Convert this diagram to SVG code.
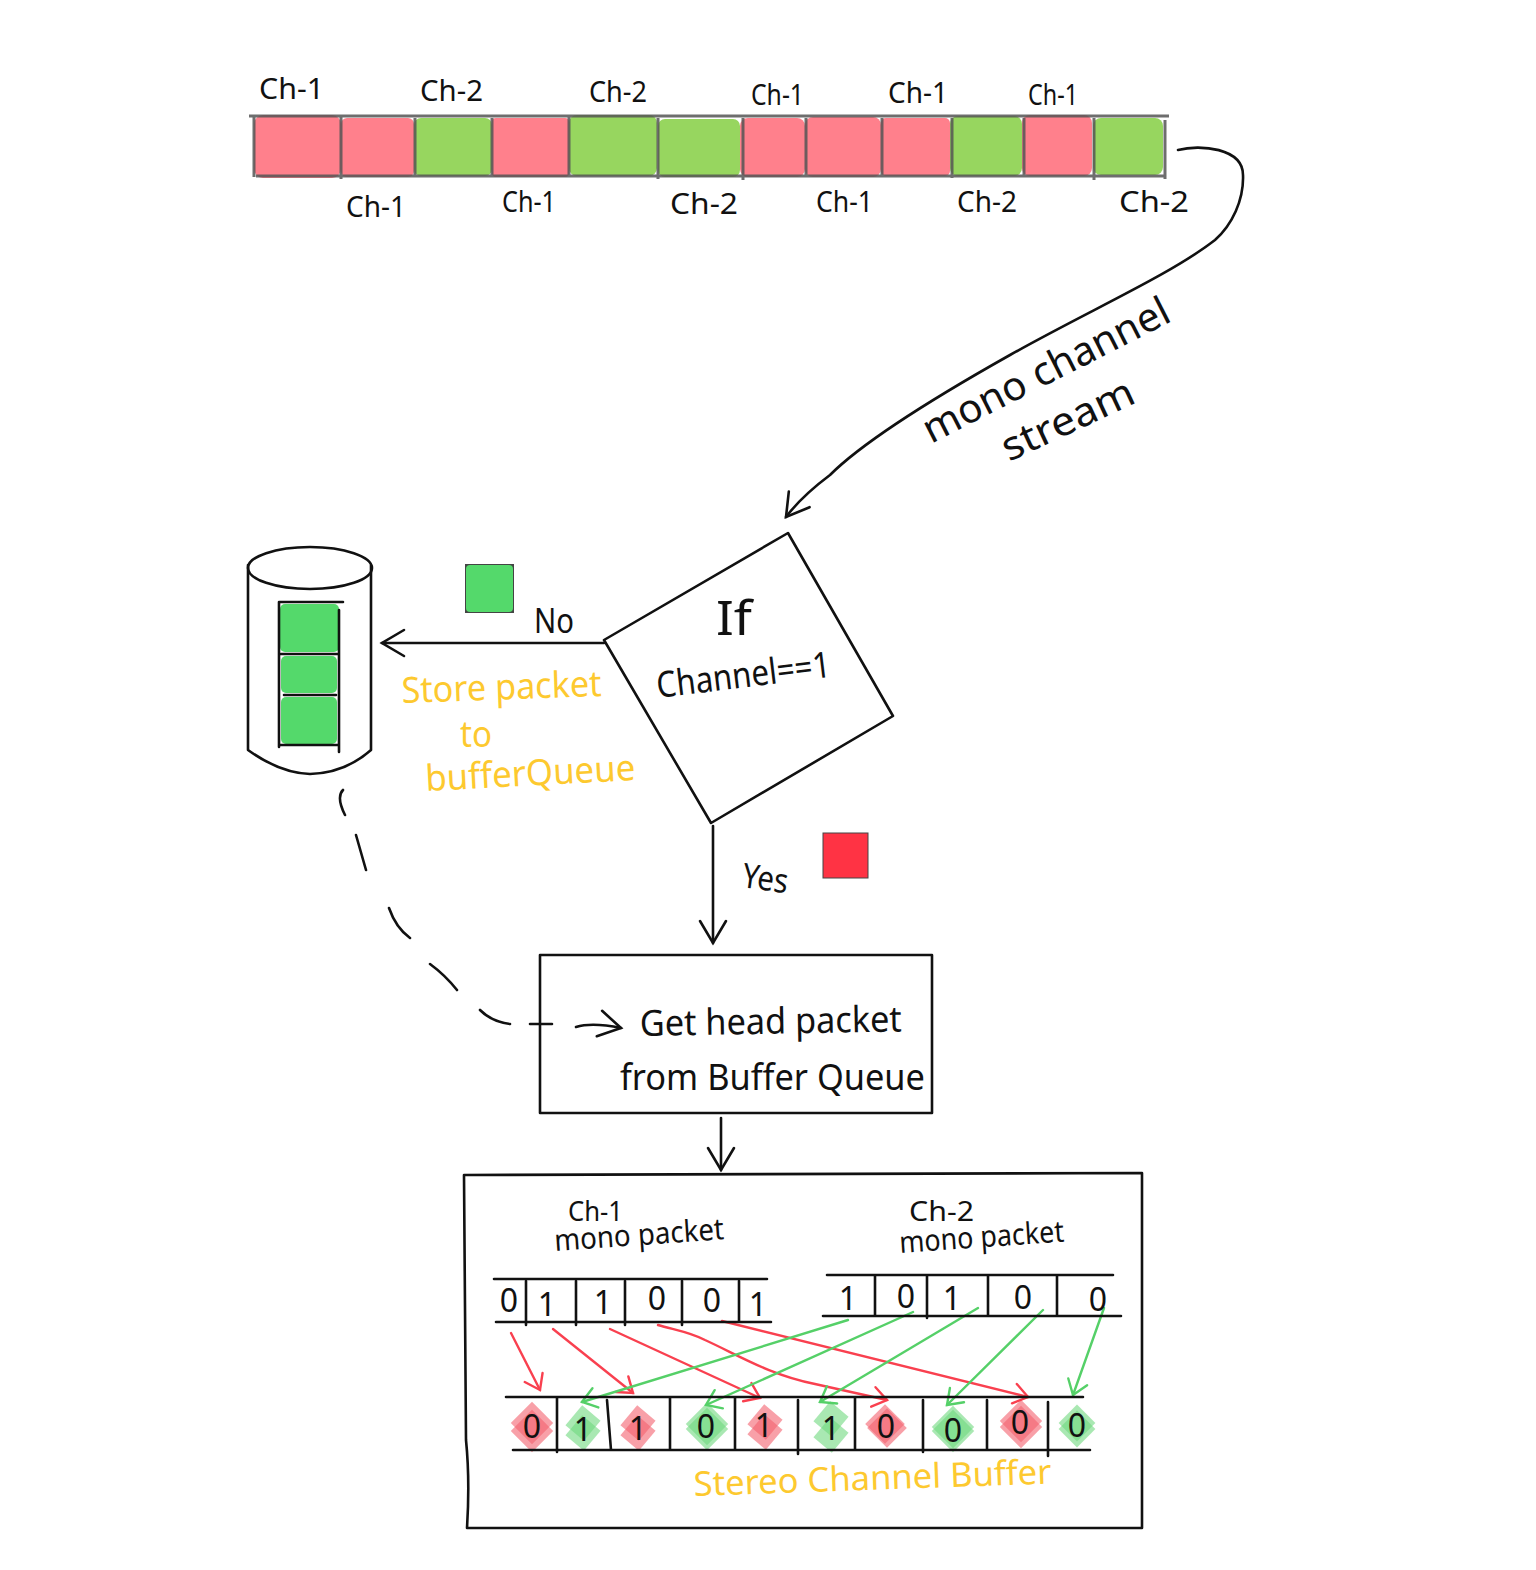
<svg xmlns="http://www.w3.org/2000/svg" width="1536" height="1570" viewBox="0 0 1536 1570">
<style>
.bg{fill:#fff}
.ink{fill:none;stroke:#111;stroke-width:2.6;stroke-linecap:round;stroke-linejoin:round}
.t{font-family:"Noto Sans","Liberation Sans",sans-serif;fill:#111}
.y{fill:#fdc92f}
.lab{font-size:29px}
.dig{font-size:32px;text-anchor:middle}
.cr{fill:#ff808c}
.cg{fill:#97d65f}
.gr{stroke:#555;stroke-width:3;stroke-opacity:.85;fill:none}
.q{fill:#54d96b}
.pr{fill:#f4606e;opacity:.6}
.pg{fill:#6fd87f;opacity:.6}
.red{fill:none;stroke:#f9404f;stroke-width:2.4;stroke-linecap:round;marker-end:url(#ar)}
.grn{fill:none;stroke:#55d068;stroke-width:2.4;stroke-linecap:round;marker-end:url(#ag)}
.blk{marker-end:url(#ab)}
</style>
<defs>
<marker id="ar" markerUnits="userSpaceOnUse" markerWidth="30" markerHeight="30" refX="20" refY="12" orient="auto"><path d="M6 2L20 12L6 22" fill="none" stroke="#f9404f" stroke-width="2.4" stroke-linecap="round"/></marker>
<marker id="ag" markerUnits="userSpaceOnUse" markerWidth="30" markerHeight="30" refX="20" refY="12" orient="auto"><path d="M6 2L20 12L6 22" fill="none" stroke="#55d068" stroke-width="2.4" stroke-linecap="round"/></marker>
<marker id="ab" markerUnits="userSpaceOnUse" markerWidth="40" markerHeight="40" refX="26" refY="16" orient="auto"><path d="M4 3L26 16L4 29" fill="none" stroke="#111" stroke-width="2.6" stroke-linecap="round"/></marker>
</defs>
<rect class="bg" width="1536" height="1570"/>

<g id="stream-strip">
<rect class="cr" x="254" y="115" width="87" height="63" rx="9"/>
<rect class="cr" x="341" y="118" width="73" height="59" rx="6"/>
<rect class="cg" x="414" y="118" width="78" height="58" rx="7"/>
<rect class="cr" x="492" y="118" width="77" height="59" rx="4"/>
<rect class="cg" x="569" y="115" width="88" height="61" rx="8"/>
<rect class="cg" x="658" y="119" width="82" height="58" rx="7"/>
<rect class="cr" x="740" y="118" width="65" height="59" rx="8"/>
<rect class="cr" x="805" y="117" width="76" height="60" rx="8"/>
<rect class="cr" x="881" y="118" width="69" height="58" rx="5"/>
<rect class="cg" x="950" y="116" width="72" height="60" rx="8"/>
<rect class="cr" x="1022" y="115" width="70" height="61" rx="8"/>
<rect class="cg" x="1093" y="118" width="70" height="57" rx="8"/>
<path class="gr" d="M249 116H1169M256 176H1166M254 116V177M341 116V179M415 118V177M492 118V177M569 116V177M658 118V179M743 118V180M806 118V177M882 118V177M952 118V178M1024 118V177M1094 118V180M1165 120V179"/>
</g>
<g id="strip-labels">
<text class="t lab" x="259" y="99" textLength="65" lengthAdjust="spacingAndGlyphs">Ch-1</text>
<text class="t lab" x="420" y="101" textLength="63" lengthAdjust="spacingAndGlyphs">Ch-2</text>
<text class="t lab" x="589" y="102" textLength="58" lengthAdjust="spacingAndGlyphs">Ch-2</text>
<text class="t lab" x="751" y="105" textLength="53" lengthAdjust="spacingAndGlyphs">Ch-1</text>
<text class="t lab" x="888" y="103" textLength="60" lengthAdjust="spacingAndGlyphs">Ch-1</text>
<text class="t lab" x="1028" y="105" textLength="50" lengthAdjust="spacingAndGlyphs">Ch-1</text>
<text class="t lab" x="346" y="217" textLength="60" lengthAdjust="spacingAndGlyphs">Ch-1</text>
<text class="t lab" x="502" y="212" textLength="54" lengthAdjust="spacingAndGlyphs">Ch-1</text>
<text class="t lab" x="670" y="214" textLength="68" lengthAdjust="spacingAndGlyphs">Ch-2</text>
<text class="t lab" x="816" y="212" textLength="57" lengthAdjust="spacingAndGlyphs">Ch-1</text>
<text class="t lab" x="957" y="212" textLength="60" lengthAdjust="spacingAndGlyphs">Ch-2</text>
<text class="t lab" x="1119" y="212" textLength="70" lengthAdjust="spacingAndGlyphs">Ch-2</text>
</g>

<g id="stereo-patches">
<rect class="pr" x="517" y="1408" width="30" height="30" transform="rotate(45 532 1423)"/><rect class="pr" x="517" y="1416" width="30" height="30" transform="rotate(45 532 1431)"/>
<rect class="pg" x="571" y="1410" width="24" height="26" transform="rotate(40 583 1423)"/><rect class="pg" x="571" y="1420" width="24" height="26" transform="rotate(40 583 1433)"/>
<rect class="pr" x="626" y="1410" width="24" height="26" transform="rotate(40 638 1423)"/><rect class="pr" x="626" y="1420" width="24" height="26" transform="rotate(40 638 1433)"/>
<rect class="pg" x="692" y="1409" width="30" height="30" transform="rotate(45 707 1424)"/><rect class="pg" x="692" y="1414" width="30" height="30" transform="rotate(45 707 1429)"/>
<rect class="pr" x="753" y="1409" width="24" height="26" transform="rotate(40 765 1422)"/><rect class="pr" x="753" y="1419" width="24" height="26" transform="rotate(40 765 1432)"/>
<rect class="pg" x="819" y="1406" width="24" height="26" transform="rotate(40 831 1419)"/><rect class="pg" x="819" y="1422" width="24" height="26" transform="rotate(40 831 1435)"/>
<rect class="pr" x="871" y="1410" width="28" height="28" transform="rotate(45 885 1424)"/><rect class="pr" x="873" y="1414" width="28" height="28" transform="rotate(45 887 1428)"/>
<rect class="pg" x="938" y="1412" width="30" height="30" transform="rotate(45 953 1427)"/><rect class="pg" x="938" y="1416" width="30" height="30" transform="rotate(45 953 1431)"/>
<rect class="pr" x="1006" y="1406" width="30" height="30" transform="rotate(45 1021 1421)"/><rect class="pr" x="1006" y="1412" width="30" height="30" transform="rotate(45 1021 1427)"/>
<rect class="pg" x="1064" y="1410" width="26" height="26" transform="rotate(45 1077 1423)"/><rect class="pg" x="1064" y="1416" width="26" height="26" transform="rotate(45 1077 1429)"/>
</g>

<g id="connectors">
<path class="ink blk" d="M1178 150C1200 144 1243 148 1243 175C1244 200 1232 225 1215 240C1170 275 1090 310 1010 355C930 400 860 445 830 475C810 490 795 505 786 517"/>
<path class="ink blk" d="M604 643H382"/>
<path class="ink blk" d="M713 826V943"/>
<path class="ink blk" d="M721 1118V1170"/>
<path class="ink" d="M343 790Q336 797 345 815M356 835L366 870M389 908Q396 928 410 938M430 964Q445 975 457 990M480 1010Q492 1022 510 1024M530 1024H552"/>
<path class="ink blk" d="M576 1027Q592 1022 621 1028"/>
<path class="red" d="M511 1333L540 1390"/>
<path class="red" d="M553 1329L633 1393"/>
<path class="red" d="M610 1329L760 1398"/>
<path class="red" d="M658 1325C675 1330 690 1332 705 1340C740 1356 770 1375 815 1384L887 1400"/>
<path class="red" d="M722 1321L1028 1397"/>
<path class="grn" d="M848 1320L582 1402"/>
<path class="grn" d="M913 1312L706 1405"/>
<path class="grn" d="M978 1308L820 1402"/>
<path class="grn" d="M1043 1310L947 1405"/>
<path class="grn" d="M1104 1308L1073 1395"/>
</g>

<g id="mono-label">
<text class="t" transform="translate(931 444) rotate(-27)" font-size="40" textLength="272" lengthAdjust="spacingAndGlyphs">mono channel</text>
<text class="t" transform="translate(1009 462) rotate(-25)" font-size="40" textLength="142" lengthAdjust="spacingAndGlyphs">stream</text>
</g>

<g id="decision">
<path class="ink" d="M788 533L893 716L711 823L604 640Z"/>
<text class="t" x="716" y="635" font-size="48" textLength="36" lengthAdjust="spacingAndGlyphs">If</text>
<text class="t" transform="translate(658 698) rotate(-7)" font-size="36" textLength="175" lengthAdjust="spacingAndGlyphs">Channel==1</text>
</g>

<g id="buffer-queue">
<ellipse class="ink" cx="310" cy="568" rx="62" ry="21"/>
<path class="ink" d="M248 565V750Q280 773 310 774Q345 773 371 750V565"/>
<rect class="q" x="280" y="604" width="59" height="48" rx="5"/>
<rect class="q" x="281" y="656" width="56" height="37" rx="5"/>
<rect class="q" x="281" y="697" width="56" height="47" rx="5"/>
<path class="ink" d="M280 602H343M279 602V747M339 610V752M281 654H337M284 695H336M280 745H338"/>
</g>

<g id="no-branch">
<rect x="465" y="564" width="49" height="49" fill="#444"/>
<rect class="q" x="466" y="565" width="47" height="47" rx="4"/>
<text class="t" x="534" y="633" font-size="34" textLength="40" lengthAdjust="spacingAndGlyphs">No</text>
<text class="t y" transform="translate(402 703) rotate(-2)" font-size="36" textLength="200" lengthAdjust="spacingAndGlyphs">Store packet</text>
<text class="t y" x="460" y="747" font-size="36" textLength="32" lengthAdjust="spacingAndGlyphs">to</text>
<text class="t y" transform="translate(426 791) rotate(-3)" font-size="36" textLength="210" lengthAdjust="spacingAndGlyphs">bufferQueue</text>
</g>

<g id="yes-branch">
<text class="t" transform="translate(741 887) rotate(8)" font-size="34" textLength="46" lengthAdjust="spacingAndGlyphs">Yes</text>
<rect x="823" y="833" width="45" height="45" fill="#ff3344" stroke="#444" stroke-width="1"/>
</g>

<g id="get-head">
<rect class="ink" x="540" y="955" width="392" height="158"/>
<text class="t" transform="translate(640 1036) rotate(-1)" font-size="36" textLength="262" lengthAdjust="spacingAndGlyphs">Get head packet</text>
<text class="t" x="620" y="1090" font-size="36" textLength="305" lengthAdjust="spacingAndGlyphs">from Buffer Queue</text>
</g>

<g id="stereo-box">
<path class="ink" d="M464 1175L1142 1173V1528H467Q470 1480 466 1440Z"/>
</g>

<g id="ch1-packet">
<text class="t" x="568" y="1221" font-size="28" textLength="55" lengthAdjust="spacingAndGlyphs">Ch-1</text>
<text class="t" transform="translate(555 1251) rotate(-4)" font-size="30" textLength="170" lengthAdjust="spacingAndGlyphs">mono packet</text>
<path class="ink" d="M494 1279H767M496 1322H771M526 1281V1325M576 1281V1325M625 1281V1325M682 1281V1325M739 1281V1322"/>
<text class="t dig" x="509" y="1312">0</text><text class="t dig" x="547" y="1316">1</text><text class="t dig" x="603" y="1314">1</text><text class="t dig" x="657" y="1310">0</text><text class="t dig" x="712" y="1312">0</text><text class="t dig" x="758" y="1316">1</text>
</g>

<g id="ch2-packet">
<text class="t" x="909" y="1221" font-size="28" textLength="65" lengthAdjust="spacingAndGlyphs">Ch-2</text>
<text class="t" transform="translate(900 1253) rotate(-4)" font-size="30" textLength="165" lengthAdjust="spacingAndGlyphs">mono packet</text>
<path class="ink" d="M827 1275H1113M823 1316H1121M875 1276V1316M927 1276V1318M988 1276V1316M1057 1276V1316"/>
<text class="t dig" x="848" y="1310">1</text><text class="t dig" x="906" y="1308">0</text><text class="t dig" x="952" y="1310">1</text><text class="t dig" x="1023" y="1309">0</text><text class="t dig" x="1098" y="1311">0</text>
</g>

<g id="stereo-buffer">
<path class="ink" d="M506 1397H1083M513 1450H1090M557 1398V1452M607 1400L611 1450M670 1398V1450M735 1398V1450M798 1400V1454M855 1398V1450M923 1400V1452M987 1400V1450M1048 1402V1456"/>
<text class="t dig" x="532" y="1438">0</text><text class="t dig" x="583" y="1441">1</text><text class="t dig" x="638" y="1440">1</text><text class="t dig" x="706" y="1438">0</text><text class="t dig" x="764" y="1437">1</text><text class="t dig" x="831" y="1440">1</text><text class="t dig" x="886" y="1438">0</text><text class="t dig" x="953" y="1442">0</text><text class="t dig" x="1020" y="1434">0</text><text class="t dig" x="1077" y="1437">0</text>
<text class="t y" transform="translate(694 1496) rotate(-2)" font-size="34" textLength="358" lengthAdjust="spacingAndGlyphs">Stereo Channel Buffer</text>
</g>
</svg>
